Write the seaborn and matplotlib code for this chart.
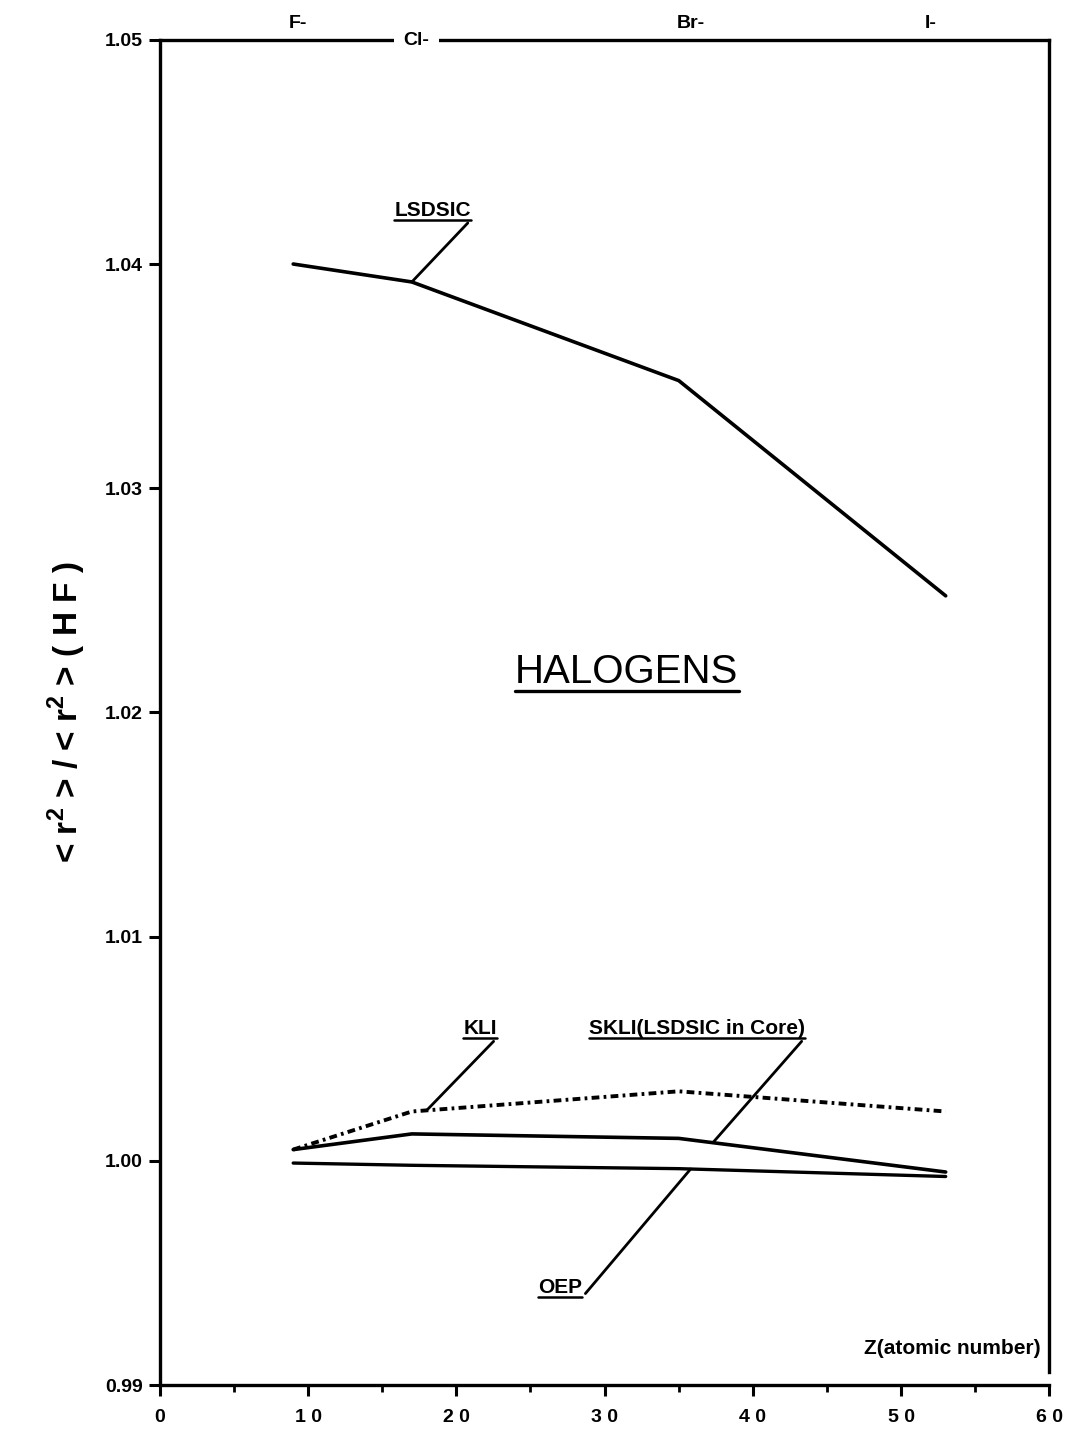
import numpy as np
import pandas as pd
import seaborn as sns
import matplotlib
matplotlib.use("Agg")
import matplotlib.pyplot as plt
import matplotlib.ticker as ticker
from matplotlib.lines import Line2D
from matplotlib.text import Text

# halogen anions, atomic numbers
elements = ["F-", "Cl-", "Br-", "I-"]
z = [9, 17, 35, 53]

# <r^2>/<r^2>(HF) ratios
lsdsic = [1.0400, 1.0392, 1.0348, 1.0252]
kli = [1.0005, 1.0022, 1.0031, 1.0022]
skli = [1.0005, 1.0012, 1.0010, 0.9995]
oep = [0.9999, 0.9998, 0.99965, 0.9993]

xticks = [0, 10, 20, 30, 40, 50, 60]
xtick_labels = ["0", "1 0", "2 0", "3 0", "4 0", "5 0", "6 0"]
yticks = [0.99, 1.00, 1.01, 1.02, 1.03, 1.04, 1.05]
ytick_labels = ["0.99", "1.00", "1.01", "1.02", "1.03", "1.04", "1.05"]

df = pd.DataFrame({
    "Z": z * 4,
    "ratio": lsdsic + kli + skli + oep,
    "method": ["LSDSIC"] * 4 + ["KLI"] * 4 + ["SKLI"] * 4 + ["OEP"] * 4,
})

sns.set_style("white")
plt.rcParams["font.family"] = ["Liberation Sans", "DejaVu Sans"]
plt.rcParams["mathtext.fontset"] = "custom"
plt.rcParams["mathtext.rm"] = "Liberation Sans"
plt.rcParams["mathtext.bf"] = "Liberation Sans:bold"
plt.rcParams["text.color"] = "black"
plt.rcParams["xtick.color"] = "black"
plt.rcParams["ytick.color"] = "black"
plt.rcParams["axes.labelcolor"] = "black"

fig = plt.figure(figsize=(10.72, 14.48), dpi=100)
ax = fig.add_axes([0.149, 0.0435, 0.830, 0.929])

styles = {
    "LSDSIC": dict(ls="-", lw=2.6),
    "KLI": dict(ls=(0, (2.0, 1.1, 0.7, 1.1)), lw=2.8),
    "SKLI": dict(ls="-", lw=2.6),
    "OEP": dict(ls="-", lw=2.4),
}
for name, st in styles.items():
    sns.lineplot(data=df[df["method"] == name], x="Z", y="ratio", ax=ax,
                 color="black", estimator=None, legend=False,
                 linestyle=st["ls"], linewidth=st["lw"])

ax.set_xlim(0, 60)
ax.set_ylim(0.99, 1.05)
ax.set_xticks(xticks)
ax.set_xticklabels(xtick_labels)
ax.set_yticks(yticks)
ax.set_yticklabels(ytick_labels)
ax.xaxis.set_minor_locator(ticker.MultipleLocator(5))
ax.tick_params(axis="both", which="both", bottom=True, left=True)
ax.tick_params(axis="both", which="major", direction="out", length=8,
               width=2.2, labelsize=14, pad=4)
ax.tick_params(axis="x", which="major", pad=9)
ax.tick_params(axis="x", which="minor", direction="out", length=5, width=2)
for lab in ax.get_xticklabels() + ax.get_yticklabels():
    lab.set_fontweight("bold")

for side in ["left", "bottom", "top", "right"]:
    ax.spines[side].set_linewidth(2.4)
    ax.spines[side].set_color("black")
ax.spines["right"].set_bounds(0.9906, 1.05)

ax.set_xlabel("")
ax.set_ylabel(r"< r$^{\mathbf{2}}$ > / < r$^{\mathbf{2}}$ > ( H F )",
              fontsize=24, fontweight="bold", labelpad=12)

# element names along the top border
el_x = [9.3, 17.3, 35.8, 52.0]
trans = ax.get_xaxis_transform()
for name, xpos in zip(elements, el_x):
    kw = dict(transform=trans, ha="center", va="bottom", fontsize=14,
              fontweight="bold")
    if name == "Cl-":
        ax.text(xpos, 0.9935, name, bbox=dict(facecolor="white",
                                              edgecolor="none", pad=7), **kw)
    else:
        ax.text(xpos, 1.006, name, **kw)

ax.text(59.4, 0.9912, "Z(atomic number)", ha="right", va="bottom",
        fontsize=15, fontweight="bold")

underlined = []
underlined.append(ax.text(31.5, 1.0218, "HALOGENS", ha="center",
                          va="center", fontsize=29))

arrow = dict(arrowstyle="-", color="black", lw=2, shrinkA=0, shrinkB=0,
             relpos=(1, 0))
lab_kw = dict(ha="center", va="center", fontsize=15, fontweight="bold",
              arrowprops=arrow)
underlined.append(ax.annotate("LSDSIC", xy=(z[1], lsdsic[1]),
                              xytext=(18.4, 1.0424), **lab_kw))
underlined.append(ax.annotate("KLI", xy=(18, np.interp(18, z, kli)),
                              xytext=(21.6, 1.0059), **lab_kw))
underlined.append(ax.annotate("SKLI(LSDSIC in Core)",
                              xy=(37.3, np.interp(37.3, z, skli)),
                              xytext=(36.2, 1.0059), **lab_kw))
underlined.append(ax.annotate("OEP", xy=(35.8, np.interp(35.8, z, oep)),
                              xytext=(27.0, 0.99433), **lab_kw))

# underline the labels (text box only, not the leader line)
fig.canvas.draw()
inv = fig.transFigure.inverted()
for t in underlined:
    bb = Text.get_window_extent(t)
    (x0, y0), (x1, _) = inv.transform([(bb.x0, bb.y0), (bb.x1, bb.y1)])
    lw = 2.4 if t.get_fontsize() > 20 else 1.8
    fig.add_artist(Line2D([x0, x1], [y0, y0], transform=fig.transFigure,
                          color="black", lw=lw))

fig.savefig("out.png", dpi=100)
